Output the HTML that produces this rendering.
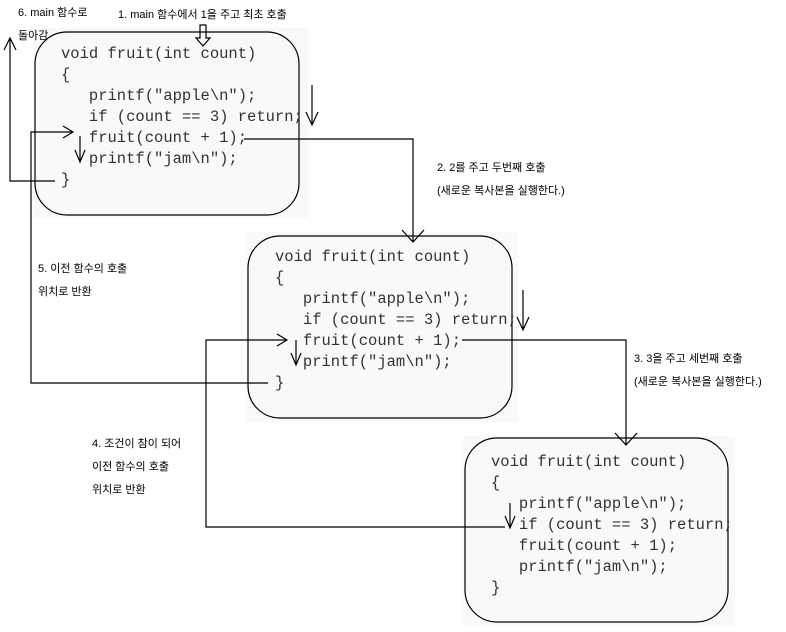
<!DOCTYPE html>
<html><head><meta charset="utf-8"><style>
body{margin:0;width:786px;height:632px;background:#fff;overflow:hidden;position:relative;font-family:"Liberation Sans","Noto Sans CJK KR",sans-serif}
.c{position:absolute;font-family:"Liberation Mono","DejaVu Sans Mono",monospace;font-size:15.5px;color:#333;white-space:pre;line-height:21px}
.l{position:absolute;font-size:11px;color:#000;white-space:pre;line-height:23px}
svg{position:absolute;left:0;top:0}
</style></head><body>
<svg width="786" height="632" viewBox="0 0 786 632">
<g fill="#f8f9fb">
<rect x="33" y="28" width="275" height="190"/>
<rect x="246" y="232" width="272" height="190"/>
<rect x="463" y="436" width="272" height="190"/>
</g>
<g fill="none" stroke="#000" stroke-width="1.2">
<rect x="35" y="32" width="264" height="183" rx="32"/>
<rect x="248" y="236" width="264" height="182" rx="32"/>
<rect x="465" y="438" width="263" height="184" rx="32"/>
<!-- arrow 1 hollow -->
<path d="M200 25 V38 H196 L203 46 L210 38 H206 V25 Z"/>
<!-- box1 -> box2 -->
<path d="M244 139 H413 V242 M402 230 L413 242 L424 230"/>
<!-- right down arrows -->
<path d="M312 85 V125 M306 112 L312 125 L318 112"/>
<path d="M523 290 V330 M517 317 L523 330 L529 317"/>
<path d="M80 136 V162 M75 150 L80 162 L85 150"/>
<path d="M296 340 V365 M291 353 L296 365 L301 353"/>
<path d="M510 503 V528 M505 516 L510 528 L515 516"/>
<!-- return to main -->
<path d="M55 181 H10 V38 M4 50 L10 38 L16 50"/>
<!-- 5 -->
<path d="M268 383 H31 V132 H73 M63 126 L73 132 L63 138"/>
<!-- box2 -> box3 -->
<path d="M462 340 H626 V445 M615 433 L626 445 L637 433"/>
<!-- 4 -->
<path d="M505 527 H206 V340 H287 M277 334 L287 340 L277 346"/>
</g>
</svg>
<div class="c" style="left:61px;top:44px">void fruit(int count)
{
   printf("apple\n");
   if (count == 3) return;
   fruit(count + 1);
   printf("jam\n");
}</div>
<div class="c" style="left:275px;top:247px">void fruit(int count)
{
   printf("apple\n");
   if (count == 3) return;
   fruit(count + 1);
   printf("jam\n");
}</div>
<div class="c" style="left:491px;top:452px">void fruit(int count)
{
   printf("apple\n");
   if (count == 3) return;
   fruit(count + 1);
   printf("jam\n");
}</div>
<div class="l" style="left:18px;top:2px">6. main 함수로
돌아감</div>
<div class="l" style="left:118px;top:4px">1. main 함수에서 1을 주고 최초 호출</div>
<div class="l" style="left:437px;top:157px">2. 2를 주고 두번째 호출
(새로운 복사본을 실행한다.)</div>
<div class="l" style="left:38px;top:258px">5. 이전 함수의 호출
위치로 반환</div>
<div class="l" style="left:634px;top:348px">3. 3을 주고 세번째 호출
(새로운 복사본을 실행한다.)</div>
<div class="l" style="left:92px;top:433px">4. 조건이 참이 되어
이전 함수의 호출
위치로 반환</div>
</body></html>
